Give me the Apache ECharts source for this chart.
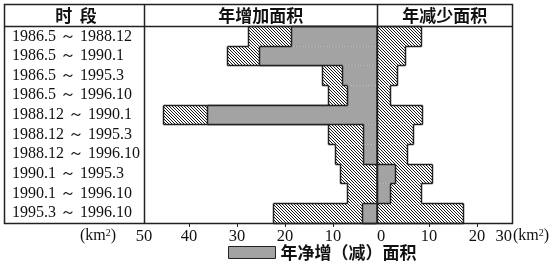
<!DOCTYPE html>
<html><head><meta charset="utf-8">
<script src="https://cdn.jsdelivr.net/npm/echarts@6/dist/echarts.min.js"></script>
<style>html,body{margin:0;padding:0;background:#fff}#c{width:553px;height:265px}</style>
</head><body><div id="c"></div>
<script>
// ---- data ----
const periods = ['1986.5 ～ 1988.12', '1986.5 ～ 1990.1', '1986.5 ～ 1995.3', '1986.5 ～ 1996.10',
  '1988.12 ～ 1990.1', '1988.12 ～ 1995.3', '1988.12 ～ 1996.10', '1990.1 ～ 1995.3',
  '1990.1 ～ 1996.10', '1995.3 ～ 1996.10'];
const annualIncrease = [26.7, 31.0, 11.3, 9.9, 44.3, 9.9, 8.5, 7.6, 6.1, 21.4];   // 年增加面积 (drawn to the left)
const annualDecrease = [9.3, 6.0, 4.3, 2.9, 9.5, 7.8, 6.5, 11.6, 9.3, 18.1];      // 年减少面积 (drawn to the right)
const netChange = [17.8, 24.3, 7.1, 6.0, 35.3, 2.8, 2.8, -4.0, -2.9, 2.9];        // 年净增(减)面积, + = net increase
const tickValues = [-50, -40, -30, -20, -10, 0, 10, 20, 30];
const tickLabels = ['50', '40', '30', '20', '10', '0', '10', '20', '30'];
const minorTickValues = [-40, -30, -20, -10, 10, 20];
const headers = ['时  段', '年增加面积', '年减少面积'];
const legendName = '年净增（减）面积';

// ---- rendering ----
function makeHatch() {
  const c = document.createElement('canvas'); c.width = 3; c.height = 3;
  const g = c.getContext('2d');
  g.fillStyle = '#ffffff'; g.fillRect(0, 0, 3, 3);
  g.fillStyle = '#1a1a1a';
  for (let i = 0; i < 3; i++) g.fillRect(i, i, 1, 1);
  return c;
}
const hatch = { image: makeHatch(), repeat: 'repeat' };
const GRAY = '#a3a3a3', LINE = '#222222';

const dataMin = -48.44, dataMax = 28.23;      // data scale of the bars
const axMin = -49.4, axMax = 27.3;            // printed scale (slightly offset in the original)
const clamp = v => Math.max(axMin, Math.min(axMax, v));
const labelVals = tickValues.map(clamp);

const chart = echarts.init(document.getElementById('c'));

function fillLayer(data, color, z, extra) {
  return Object.assign({
    type: 'bar', xAxisIndex: 0, yAxisIndex: 0, data: data, silent: true, z: z,
    barGap: '-100%', barCategoryGap: 0,
    itemStyle: { color: color, borderWidth: 0 }
  }, extra || {});
}
// outline of the union of the bars of one layer (step outline, no inner row lines)
function outlineLayer(vals, z) {
  const data = vals.map((v, i) => [i, v, i > 0 ? vals[i - 1] : 0, i < vals.length - 1 ? vals[i + 1] : 0]);
  const px = x => Math.round(x - 0.5) + 0.5;
  return {
    type: 'custom', xAxisIndex: 0, yAxisIndex: 0, silent: true, data: data, z: z,
    encode: { x: 1, y: 0 },
    renderItem: function (params, api) {
      const i = api.value(0), v = api.value(1), p = api.value(2), n = api.value(3);
      if (!v) return null;
      const c = api.coord([0, i]);
      const h = api.size([0, 1])[1];
      const top = px(c[1] - h / 2), bot = px(c[1] + h / 2);
      const xv = px(api.coord([v, i])[0]);
      const segs = [[xv, top, xv, bot]];
      const pE = p * v > 0 ? p : 0, nE = n * v > 0 ? n : 0;
      if (Math.abs(v) > Math.abs(pE)) segs.push([px(api.coord([pE, i])[0]), top, xv, top]);
      if (Math.abs(v) > Math.abs(nE)) segs.push([px(api.coord([nE, i])[0]), bot, xv, bot]);
      return { type: 'group', children: segs.map(s => ({ type: 'line',
        shape: { x1: s[0], y1: s[1], x2: s[2], y2: s[3] }, style: { stroke: LINE, lineWidth: 1.5 } })) };
    }
  };
}

chart.setOption({
  animation: false,
  grid: { left: 144, right: 41, top: 26.5, bottom: 42, containLabel: false },
  xAxis: [
    { type: 'value', min: dataMin, max: dataMax, show: false, position: 'top' },
    { type: 'value', min: axMin, max: axMax, position: 'bottom',
      axisLine: { show: false }, splitLine: { show: false },
      axisTick: { show: true, customValues: minorTickValues, length: 4, lineStyle: { color: LINE, width: 1 } },
      axisLabel: { customValues: labelVals, margin: 5, color: '#111', fontSize: 16.5,
        fontFamily: 'Liberation Serif', alignMaxLabel: 'right',
        formatter: function (v) { return tickLabels[labelVals.indexOf(v)]; } } }
  ],
  yAxis: { type: 'category', data: periods, inverse: true,
    axisLine: { show: false }, axisTick: { show: false }, splitLine: { show: false },
    axisLabel: { interval: 0, align: 'left', margin: 132, color: '#111', fontSize: 16,
      fontFamily: 'Liberation Serif', padding: [6, 0, 0, 0] } },
  legend: { data: [legendName], left: 228, top: 244, itemWidth: 47, itemHeight: 12, padding: 0,
    icon: 'rect', selectedMode: false,
    itemStyle: { borderColor: LINE, borderWidth: 1 },
    textStyle: { fontSize: 17, fontWeight: 'bold', fontFamily: 'Noto Sans CJK SC', color: '#111' } },
  series: [
    fillLayer(annualIncrease.map(v => -v), hatch, 2),
    fillLayer(annualDecrease, hatch, 2),
    outlineLayer(annualIncrease.map(v => -v), 3),
    outlineLayer(annualDecrease, 3),
    fillLayer(netChange.map(v => -v), GRAY, 4, { name: legendName,
      markLine: { silent: true, symbol: ['none', 'none'], label: { show: false },
        lineStyle: { color: LINE, width: 1.5, type: 'solid' }, data: [{ xAxis: 0 }] } }),
    outlineLayer(netChange.map(v => -v), 5)
  ]
});

const zx = Math.round(chart.convertToPixel({ xAxisIndex: 0 }, 0)) + 0.5;
const hFont = 'bold 17px "Noto Sans CJK SC"';
const kmRich = { s: { fontSize: 10, fontFamily: 'Liberation Serif', verticalAlign: 'top', fill: '#111' } };
chart.setOption({
  graphic: [
    { type: 'line', z: 100, silent: true, shape: { x1: zx, y1: 4.5, x2: zx, y2: 223.5 },
      style: { stroke: LINE, lineWidth: 1.5 } },
    { type: 'rect', z: 100, silent: true, shape: { x: 4.5, y: 4.5, width: 508, height: 219 },
      style: { fill: 'none', stroke: LINE, lineWidth: 1.5 } },
    { type: 'line', z: 100, silent: true, shape: { x1: 4.5, y1: 26.5, x2: 512.5, y2: 26.5 },
      style: { stroke: LINE, lineWidth: 1.5 } },
    { type: 'line', z: 100, silent: true, shape: { x1: 144.5, y1: 4.5, x2: 144.5, y2: 223.5 },
      style: { stroke: LINE, lineWidth: 1.5 } },
    { type: 'text', z: 100, silent: true, x: 76, y: 16, style: { text: headers[0], font: hFont, fill: '#111', align: 'center', verticalAlign: 'middle' } },
    { type: 'text', z: 100, silent: true, x: (144 + zx) / 2, y: 16, style: { text: headers[1], font: hFont, fill: '#111', align: 'center', verticalAlign: 'middle' } },
    { type: 'text', z: 100, silent: true, x: (zx + 512) / 2, y: 16, style: { text: headers[2], font: hFont, fill: '#111', align: 'center', verticalAlign: 'middle' } },
    { type: 'text', z: 100, silent: true, x: 80, y: 236, style: { text: '(km{s|2})', font: '16px "Liberation Serif"', fill: '#111', align: 'left', verticalAlign: 'middle', rich: kmRich } },
    { type: 'text', z: 100, silent: true, x: 513, y: 236, style: { text: '(km{s|2})', font: '16px "Liberation Serif"', fill: '#111', align: 'left', verticalAlign: 'middle', rich: kmRich } }
  ]
});
</script>
</body></html>
